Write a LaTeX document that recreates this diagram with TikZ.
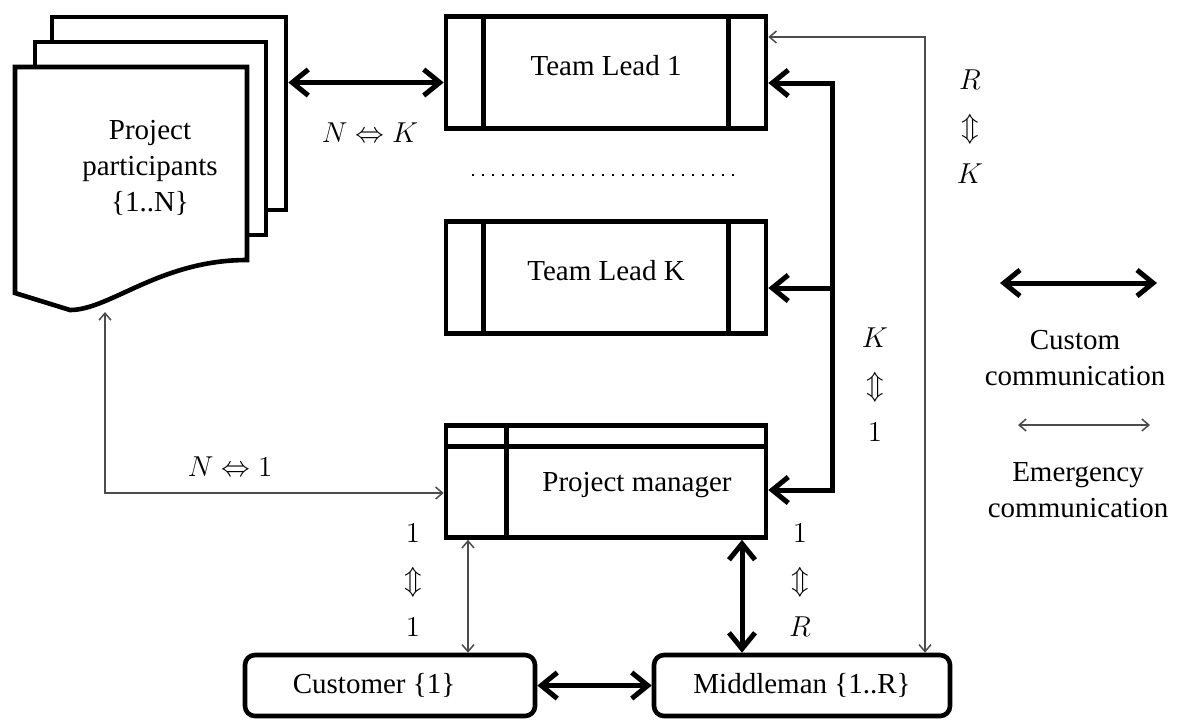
\documentclass[tikz,border=0pt]{standalone}
\usepackage{fontspec}
\setmainfont{Liberation Serif}
\usetikzlibrary{calc}
\usetikzlibrary{arrows.meta}

\begin{document}
\begin{tikzpicture}[x=0.5pt, y=-0.5pt,
  every node/.style={font=\fontsize{14.5}{18}\selectfont},
  box/.style={draw, line width=2.3pt, inner sep=0pt, minimum width=160pt, minimum height=56pt},
  sheet/.style={draw, fill=white, line width=2.3pt, inner sep=0pt},
  endbox/.style={draw, line width=2.3pt, rounded corners=5pt, inner sep=0pt, minimum height=30.5pt},
  custom/.style={line width=2.5pt, >={Straight Barb[length=8pt, width=13pt]}},
  emergency/.style={line width=0.75pt, draw=black!70, >={Straight Barb[length=3.5pt, width=6pt]}},
  ratio/.style={align=center, font=\fontsize{14.5}{23.5}\selectfont}]
\useasboundingbox (0,0) rectangle (1182,720);

% participants
\node[sheet, minimum width=117pt, minimum height=96.5pt] (sheet3) at (169,113.5) {};
\node[sheet, minimum width=115.5pt, minimum height=96.5pt] (sheet2) at (150.5,138.5) {};
\draw[sheet] (15,67) -- (247,67) -- (247,260) .. controls (160,260) and (110,310) .. (70,310) -- (15,293) -- cycle;
\node[align=center] (part) at (150,168) {Project\\participants\\\{1..N\}};
\coordinate (wave) at (105,312);

% team leads
\node[box, text depth=7pt] (tl1) at (606,72.5) {Team Lead 1};
\node[box, text depth=7pt] (tlk) at (606,277.5) {Team Lead K};
\foreach \t in {tl1,tlk} {
  \draw[line width=2.3pt] ($(\t.north west)+(40,0)$) -- ($(\t.south west)+(40,0)$);
  \draw[line width=2.3pt] ($(\t.north east)+(-40,0)$) -- ($(\t.south east)+(-40,0)$);
}
\draw[line width=0.9pt, dash pattern=on 0.9pt off 4.1pt] (472,175) -- (740,175);

% project manager
\node[box] (pm) at (606,481.5) {};
\draw[line width=2.3pt] ($(pm.north west)+(0,23)$) -- ($(pm.north east)+(0,23)$);
\draw[line width=2.3pt] ($(pm.north west)+(63,0)$) -- ($(pm.south west)+(63,0)$);
\node (pmname) at (637,485) {Project manager};

% customer, middleman
\node[endbox, minimum width=145pt] (cust) at (390,685.5) {Customer \{1\}\hspace*{16pt}};
\node[endbox, minimum width=148pt] (mid) at (802,685.5) {Middleman \{1..R\}};

% participants -- team leads
\coordinate (a1) at ($(tl1.west)+(0,10)$);
\draw[custom,<->] (sheet3.east |- a1) -- (a1);
\node (nkl) at (370,133) {$N \Leftrightarrow K$};

% team leads -- project manager
\coordinate (busTop) at (832,83);
\coordinate (busMid) at (832,288);
\coordinate (busBot) at (832,490);
\draw[custom,<->] (tl1.east |- busTop) -- (busTop) -- (busBot) -- (pm.east |- busBot);
\draw[custom,->] (busMid) -- (tlk.east |- busMid);
\node[ratio] (k1l) at (875,385) {$K$\\$\Updownarrow$\\$1$};

% team lead -- middleman
\coordinate (rk) at (925,37);
\draw[emergency,<->] (tl1.east |- rk) -- (rk) -- (rk |- mid.north);
\node[ratio] (rkl) at (970,127) {$R$\\$\Updownarrow$\\$K$};

% participants -- project manager
\coordinate (n1) at (105,493);
\draw[emergency,<->] (wave) -- (n1) -- (pm.west |- n1);
\node (n1l) at (230,467) {$N \Leftrightarrow 1$};

% project manager -- customer, middleman
\coordinate (cx) at (468,600);
\draw[emergency,<->] (pm.south -| cx) -- (cust.north -| cx);
\node[ratio] (c1l) at (413,580) {$1$\\$\Updownarrow$\\$1$};
\coordinate (mx) at (742,600);
\draw[custom,<->] (pm.south -| mx) -- (mid.north -| mx);
\node[ratio] (m1l) at (800,580) {$1$\\$\Updownarrow$\\$R$};
\draw[custom,<->] (cust.east) -- (mid.west);

% legend
\coordinate (lc1) at (1000,283);
\coordinate (lc2) at (1157,283);
\draw[custom,<->] (lc1) -- (lc2);
\node[align=center] (legc) at (1075,358) {Custom\\communication};
\coordinate (le1) at (1018,425);
\coordinate (le2) at (1150,425);
\draw[emergency,<->] (le1) -- (le2);
\node[align=center] (lege) at (1078,490) {Emergency\\communication};
\end{tikzpicture}
\end{document}
